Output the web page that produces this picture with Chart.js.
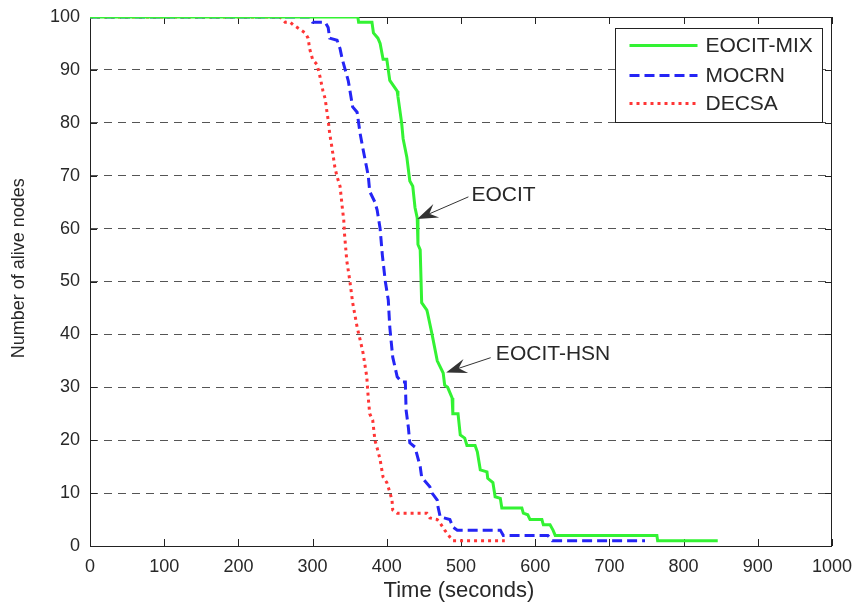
<!DOCTYPE html>
<html>
<head>
<meta charset="utf-8">
<script src="https://cdn.jsdelivr.net/npm/chart.js@4"></script>
<style>
  html, body { margin: 0; padding: 0; background: #fff; }
  #wrap { width: 858px; height: 603px; }
</style>
</head>
<body>
<div id="wrap"><canvas id="lifetime"></canvas></div>
<script>
// series (time in seconds, number of alive nodes)
var mixTime  = [0, 361, 362, 380, 382, 388, 391, 395, 400, 402, 404, 414, 415, 420, 422, 427, 431, 435, 438, 441, 442, 445, 447, 454, 455, 461, 468, 476, 478, 482, 488, 489, 496, 499, 505, 508, 519, 522, 526, 535, 536, 543, 546, 553, 555, 582, 584, 590, 593, 609, 611, 620, 624, 627, 764, 765, 846];
var mixNodes = [100, 100, 99, 99, 97, 96, 95, 92, 92, 90, 88, 86, 85, 80, 77, 73.5, 69, 68, 64, 62, 57, 56, 46, 44.6, 44, 40, 35, 32.7, 30.4, 30, 28, 25, 25, 21, 20.4, 19, 19, 17.8, 14.4, 14, 12.8, 12, 9.3, 9, 7.2, 7.2, 6.2, 5.9, 5, 5, 4, 4, 3, 2, 2, 1, 1];

var mocrnTime  = [0, 296, 300, 317, 321, 323, 333, 337, 340, 344, 348, 354, 360, 364, 368, 375, 377, 384, 387, 391, 394, 398, 402, 404, 408, 414, 420, 425, 426, 429, 431, 438, 445, 447, 458, 461, 468, 469, 472, 485, 489, 495, 553, 557, 617, 623, 748];
var mocrnNodes = [100, 100, 99, 99, 98, 96, 95.6, 94, 92, 90, 88, 83, 82, 78, 75, 70, 67, 65, 63.5, 60, 55, 50, 46.5, 41.4, 35.7, 32, 31, 31, 25.7, 22.5, 19.5, 18.7, 15, 13, 11.2, 10, 8.7, 7.4, 5.5, 5, 3.6, 3, 3, 2, 2, 1, 1];

var decsaTime  = [0, 256, 263, 270, 274, 290, 294, 296, 300, 306, 310, 314, 317, 319, 321, 323, 326, 330, 333, 337, 340, 342, 343, 346, 350, 354, 360, 364, 368, 373, 375, 377, 381, 384, 388, 391, 395, 400, 404, 407, 408, 414, 454, 458, 468, 472, 478, 485, 489, 559];
var decsaNodes = [100, 100, 99, 99, 98.5, 97, 96, 94, 92, 91, 88.7, 86, 84.5, 82.4, 80.5, 78, 75.4, 71.6, 69.8, 68, 64, 61.6, 59, 54, 50.3, 46, 41.4, 39, 36.5, 32, 28, 25, 23.8, 20, 18, 16.3, 13, 12, 10.2, 8.7, 6.8, 6.2, 6.2, 5.3, 5, 4.3, 3, 1.7, 1, 1];

var seriesNames = ['EOCIT-MIX', 'MOCRN', 'DECSA'];
var xTicks = [0, 100, 200, 300, 400, 500, 600, 700, 800, 900, 1000];
var yTicks = [0, 10, 20, 30, 40, 50, 60, 70, 80, 90, 100];

function pairs(xs, ys) {
    return xs.map(function (x, i) { return { x: x, y: ys[i] }; });
}

var FONT = 'Liberation Sans, Arial, Helvetica, sans-serif';
var TEXT = '#282828';

// box, inward tick marks
var framePlugin = {
    id: 'frame',
    beforeDatasetsDraw: function (chart) {
        var c = chart.ctx, a = chart.chartArea;
        var sx = chart.scales.x, sy = chart.scales.y;
        c.save();
        c.strokeStyle = '#222';
        c.lineWidth = 1;
        c.setLineDash([]);
        c.strokeRect(a.left + 0.5, a.top + 0.5, a.right - a.left - 1, a.bottom - a.top);
        c.beginPath();
        xTicks.forEach(function (v) {
            var px = Math.round(sx.getPixelForValue(v)) + 0.5;
            c.moveTo(px, a.bottom); c.lineTo(px, a.bottom - 7);
            c.moveTo(px, a.top); c.lineTo(px, a.top + 7);
        });
        yTicks.forEach(function (v) {
            var py = Math.round(sy.getPixelForValue(v)) + 0.5;
            c.moveTo(a.left, py); c.lineTo(a.left + 7, py);
            c.moveTo(a.right, py); c.lineTo(a.right - 7, py);
        });
        c.stroke();
        c.restore();
    }
};

function arrow(c, x1, y1, x2, y2) {
    // line from (x1,y1) to tip (x2,y2) with filled head
    var ang = Math.atan2(y2 - y1, x2 - x1);
    var len = 22, half = 0.34;
    c.beginPath();
    c.moveTo(x1, y1);
    c.lineTo(x2 - Math.cos(ang) * 12, y2 - Math.sin(ang) * 12);
    c.stroke();
    c.beginPath();
    c.moveTo(x2, y2);
    c.lineTo(x2 - len * Math.cos(ang - half), y2 - len * Math.sin(ang - half));
    c.lineTo(x2 - len * 0.6 * Math.cos(ang), y2 - len * 0.6 * Math.sin(ang));
    c.lineTo(x2 - len * Math.cos(ang + half), y2 - len * Math.sin(ang + half));
    c.closePath();
    c.fill();
}

var notesPlugin = {
    id: 'notes',
    afterDatasetsDraw: function (chart) {
        var c = chart.ctx, sx = chart.scales.x, sy = chart.scales.y;
        var a = chart.chartArea;
        var X = function (v) { return sx.getPixelForValue(v); };
        var Y = function (v) { return sy.getPixelForValue(v); };
        c.save();
        c.strokeStyle = '#333';
        c.fillStyle = '#333';
        c.lineWidth = 1;
        arrow(c, X(510), Y(66), X(441), Y(61.8));
        arrow(c, X(540), Y(35.6), X(480), Y(32.8));
        c.fillStyle = TEXT;
        c.font = '21px ' + FONT;
        c.textBaseline = 'middle';
        c.textAlign = 'left';
        c.fillText('EOCIT', X(514), Y(66.4));
        c.fillText('EOCIT-HSN', X(547), Y(36.3));

        // axis titles
        c.textAlign = 'center';
        c.font = '22px ' + FONT;
        c.fillText('Time (seconds)', (a.left + a.right) / 2 - 2, a.bottom + 45);
        c.save();
        c.translate(19, Y(52.5));
        c.rotate(-Math.PI / 2);
        c.font = '18px ' + FONT;
        c.fillText('Number of alive nodes', 0, 0);
        c.restore();

        // legend box
        c.textAlign = 'left';
        c.font = '21px ' + FONT;
        var bw = 207, bh = 94;
        var bx = a.right - 10 - bw + 0.5, by = a.top + 11 + 0.5;
        c.fillStyle = '#fff';
        c.fillRect(bx, by, bw, bh);
        c.strokeStyle = '#222';
        c.strokeRect(bx, by, bw, bh);
        var rows = [17, 47, 75];
        chart.data.datasets.forEach(function (ds, i) {
            var ry = by + rows[i];
            c.beginPath();
            c.strokeStyle = ds.borderColor;
            c.lineWidth = ds.borderWidth;
            c.setLineDash(ds.borderDash || []);
            c.moveTo(bx + 14, ry);
            c.lineTo(bx + 82, ry);
            c.stroke();
            c.setLineDash([]);
            c.fillStyle = TEXT;
            c.fillText(ds.label, bx + 90, ry + 1);
        });
        c.restore();
    }
};

var ctx = document.getElementById('lifetime');
var myChart = new Chart(ctx, {
    type: 'line',
    data: {
        datasets: [{
            label: seriesNames[0],
            data: pairs(mixTime, mixNodes),
            borderColor: '#33f233',
            borderWidth: 3,
            pointRadius: 0,
            fill: false
        }, {
            label: seriesNames[1],
            data: pairs(mocrnTime, mocrnNodes),
            borderColor: '#2525f5',
            borderWidth: 3,
            borderDash: [10, 5],
            pointRadius: 0,
            fill: false
        }, {
            label: seriesNames[2],
            data: pairs(decsaTime, decsaNodes),
            borderColor: '#ff3535',
            borderWidth: 3,
            borderDash: [3, 4],
            pointRadius: 0,
            fill: false
        }]
    },
    options: {
        responsive: true,
        maintainAspectRatio: false,
        animation: false,
        layout: { autoPadding: false, padding: { top: 17, right: 26, left: 0, bottom: 0 } },
        plugins: {
            legend: { display: false },
            tooltip: { enabled: false }
        },
        scales: {
            x: {
                type: 'linear',
                min: 0,
                max: 1000,
                afterFit: function (s) {
                    s.height = 57;
                    s.paddingLeft = 0; s.paddingRight = 0;
                },
                afterBuildTicks: function (s) { s.ticks = xTicks.map(function (v) { return { value: v }; }); },
                grid: { display: false, drawTicks: false },
                border: { display: false },
                ticks: {
                    padding: 10,
                    color: TEXT,
                    font: { family: FONT, size: 18 },
                    callback: function (v) { return String(v); }
                }
            },
            y: {
                min: 0,
                max: 100,
                afterFit: function (s) {
                    s.width = 90;
                    s.paddingTop = 0; s.paddingBottom = 0;
                },
                afterBuildTicks: function (s) { s.ticks = yTicks.map(function (v) { return { value: v }; }); },
                grid: { color: '#555', lineWidth: 1, drawTicks: false },
                border: { display: false, dash: [8, 6] },
                ticks: {
                    padding: 10,
                    color: TEXT,
                    font: { family: FONT, size: 18 },
                    callback: function (v) { return String(v); }
                }
            }
        }
    },
    plugins: [framePlugin, notesPlugin]
});
</script>
</body>
</html>
